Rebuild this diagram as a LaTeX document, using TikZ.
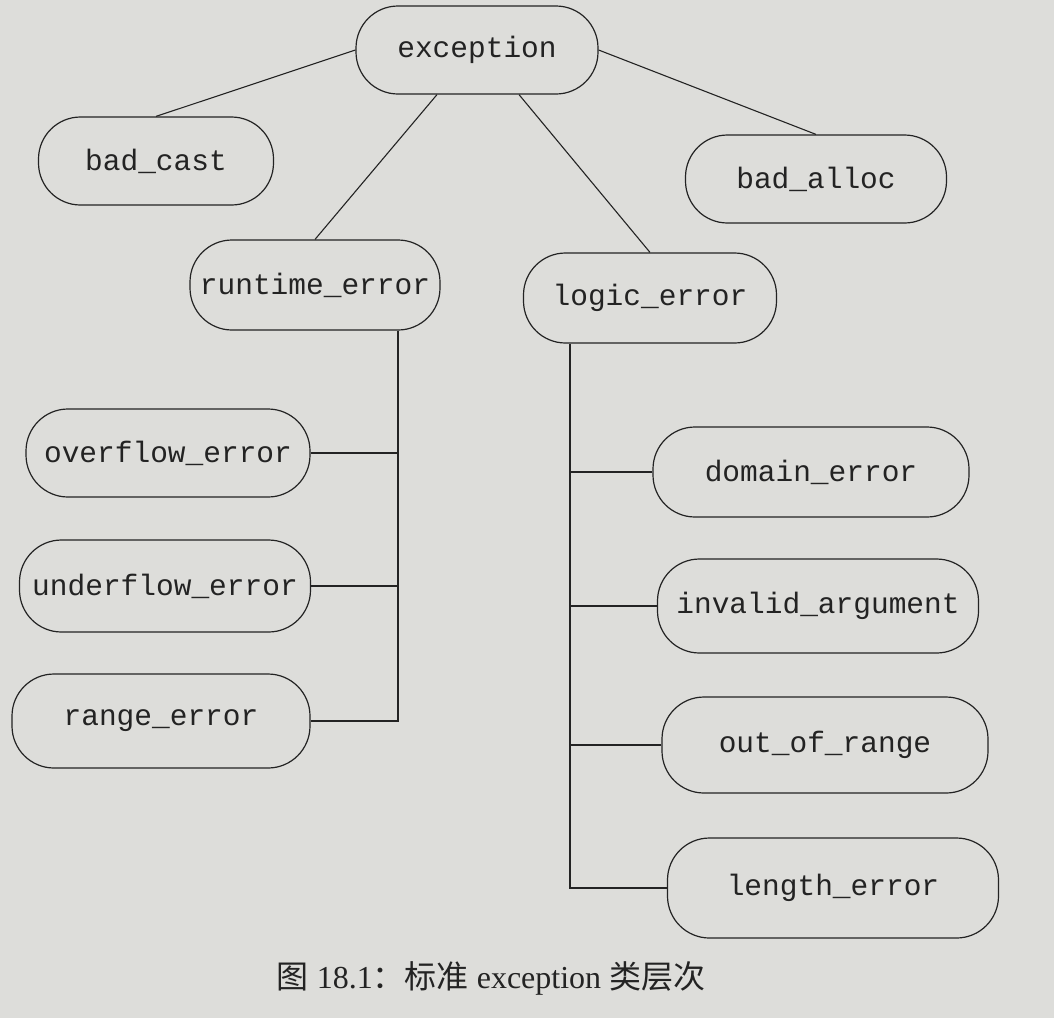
\documentclass[tikz,border=0pt]{standalone}
\usepackage{fontspec}
\setmainfont{Liberation Serif}
\setmonofont{Liberation Mono}
\newfontfamily\cjk{Noto Sans CJK SC}
\definecolor{paper}{RGB}{221,221,218}
\definecolor{ink}{RGB}{35,35,35}
\tikzset{
  cls/.style={draw=ink, line width=1.2pt, rounded corners=42pt, minimum height=88pt,
    inner sep=0pt, text=ink, font=\fontsize{29.5}{30}\selectfont\ttfamily},
  link/.style={draw=ink, line width=1.1pt},
  captext/.style={text=ink, font=\fontsize{32}{35}\selectfont}
}
\begin{document}
\begin{tikzpicture}[x=1pt,y=-1pt]
\fill[paper] (0,0) rectangle (1054,1018);
\useasboundingbox (0,0) rectangle (1054,1018);
% nodes
\node[cls, minimum width=242pt] (exc) at (477,50) {exception};
\node[cls, minimum width=235pt] (bcast) at (156,161) {bad\_cast};
\node[cls, minimum width=261pt] (balloc) at (816,179) {bad\_alloc};
\node[cls, minimum width=250pt, minimum height=90pt] (rt) at (315,285) {runtime\_error};
\node[cls, minimum width=253pt, minimum height=90pt] (lg) at (650,298) {logic\_error};
\node[cls, minimum width=284pt] (ovf) at (168,453) {overflow\_error};
\node[cls, minimum width=291pt, minimum height=92pt] (udf) at (165,586) {underflow\_error};
\node[cls, minimum width=298pt, minimum height=94pt] (rng) at (161,721) {range\_error};
\node[cls, minimum width=316pt, minimum height=90pt] (dom) at (811,472) {domain\_error};
\node[cls, minimum width=321pt, minimum height=94pt] (inv) at (818,606) {invalid\_argument};
\node[cls, minimum width=326pt, minimum height=96pt] (oor) at (825,745) {out\_of\_range};
\node[cls, minimum width=331pt, minimum height=100pt] (len) at (833,888) {length\_error};
% connectors from exception
\draw[link] (exc.west) -- (bcast.north);
\draw[link] ([xshift=-40pt]exc.south) -- (rt.north);
\draw[link] ([xshift=42pt]exc.south) -- (lg.north);
\draw[link] (exc.east) -- (balloc.north);
% runtime_error subtree
\coordinate (rtb) at ([xshift=83pt]rt.south);
\draw[link] (rtb) |- (rng.east);
\draw[link] (ovf.east) -- (ovf.east -| rtb);
\draw[link] (udf.east) -- (udf.east -| rtb);
% logic_error subtree
\coordinate (lgb) at ([xshift=-80pt]lg.south);
\draw[link] (lgb) |- (len.west);
\draw[link] (dom.west) -- (dom.west -| lgb);
\draw[link] (inv.west) -- (inv.west -| lgb);
\draw[link] (oor.west) -- (oor.west -| lgb);
% caption
\node[captext] (cap) at (491,978) {{\cjk 图} 18.1{\cjk ：标准} exception {\cjk 类层次}};
\end{tikzpicture}
\end{document}
